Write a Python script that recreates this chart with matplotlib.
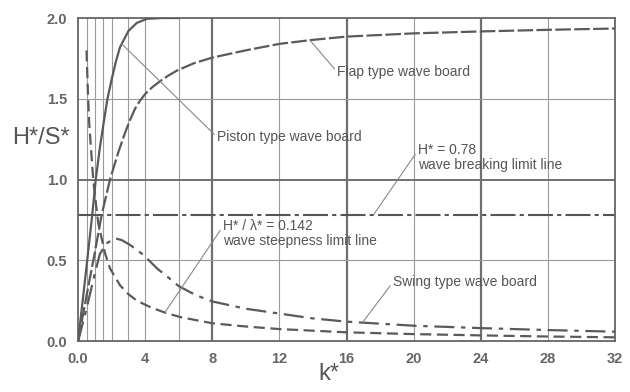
import matplotlib
matplotlib.use("Agg")
import matplotlib.pyplot as plt

plt.rcParams['font.family'] = ['Liberation Sans', 'DejaVu Sans']

# curves (k*, H*/S*)
piston_k = [0.0, 0.5, 0.84, 1.05, 1.3, 1.55, 1.75, 2.0, 2.25, 2.5, 3.0, 3.5, 4.1, 5.0, 6.0]
piston_h = [0.0, 0.46, 0.78, 1.0, 1.2, 1.37, 1.5, 1.62, 1.73, 1.82, 1.92, 1.97, 1.995, 2.0, 2.0]

flap_k = [0.0, 0.5, 1.0, 1.4, 1.9, 2.4, 2.8, 3.1, 3.4, 3.7, 4.0, 4.4, 4.9, 5.4, 5.9, 6.9, 8.0, 10.0, 12.0, 14.0, 16.0, 20.0, 24.0, 28.0, 32.0]
flap_h = [0.0, 0.28, 0.55, 0.78, 1.0, 1.17, 1.29, 1.37, 1.44, 1.49, 1.53, 1.57, 1.61, 1.645, 1.675, 1.72, 1.755, 1.8, 1.84, 1.865, 1.885, 1.905, 1.917, 1.927, 1.935]

swing_k = [0.0, 0.5, 1.0, 1.3, 1.7, 2.2, 2.6, 3.1, 3.9, 4.7, 5.3, 6.0, 7.0, 8.0, 10.0, 12.0, 14.0, 16.0, 20.0, 24.0, 28.0, 32.0]
swing_h = [0.0, 0.2, 0.42, 0.54, 0.605, 0.636, 0.625, 0.595, 0.533, 0.45, 0.4, 0.34, 0.285, 0.245, 0.2, 0.17, 0.14, 0.12, 0.095, 0.08, 0.068, 0.058]

steep_k = [0.5, 0.58, 0.66, 0.9, 1.14, 1.2, 1.6, 1.9, 2.5, 3.0, 3.5, 4.3, 5.2, 6.1, 8.0, 10.0, 12.0, 16.0, 20.0, 24.0, 28.0, 32.0]
steep_h = [1.8, 1.55, 1.35, 1.0, 0.78, 0.73, 0.545, 0.45, 0.345, 0.29, 0.25, 0.21, 0.175, 0.148, 0.11, 0.09, 0.074, 0.054, 0.043, 0.035, 0.028, 0.023]

breaking_h = 0.78

x_ticks = [0, 4, 8, 12, 16, 20, 24, 28, 32]
x_labels = ['0.0', '4', '8', '12', '16', '20', '24', '28', '32']
y_ticks = [0.0, 0.5, 1.0, 1.5, 2.0]
y_labels = ['0.0', '0.5', '1.0', '1.5', '2.0']

thin_vgrid = [0.5, 1.0, 1.5, 2.0, 3.0, 4.0, 6.0, 12, 20, 28]
thick_vgrid = [8, 16, 24]
thin_hgrid = [0.5, 1.5]
thick_hgrid = [1.0]

fig = plt.figure(figsize=(6.3, 3.92), dpi=100)
ax = fig.add_axes([0.124, 0.130, 0.852, 0.824])

for v in thin_vgrid:
    ax.axvline(v, color='#9a9a9a', lw=0.8, zorder=1)
for v in thick_vgrid:
    ax.axvline(v, color='#707070', lw=1.6, zorder=1)
for h in thin_hgrid:
    ax.axhline(h, color='#9a9a9a', lw=0.8, zorder=1)
for h in thick_hgrid:
    ax.axhline(h, color='#707070', lw=1.4, zorder=1)

ax.axhline(breaking_h, color='#555555', lw=1.5, dashes=(12, 2, 2, 2), zorder=2)

c = '#5a5a5a'
ax.plot(piston_k, piston_h, color=c, lw=1.6, zorder=3)
ax.plot(flap_k, flap_h, color=c, lw=1.6, dashes=(7, 1.5), zorder=3)
ax.plot(swing_k, swing_h, color=c, lw=1.6, dashes=(9, 3, 2, 3), zorder=3)
ax.plot(steep_k, steep_h, color=c, lw=1.6, dashes=(5, 2.5), zorder=3)

ax.set_xlim(0, 32)
ax.set_ylim(0, 2.0)
ax.set_xticks(x_ticks)
ax.set_xticklabels(x_labels)
ax.set_yticks(y_ticks)
ax.set_yticklabels(y_labels)
ax.tick_params(length=0, labelsize=10.5, labelcolor='#666666', pad=8)
for lab in ax.get_xticklabels() + ax.get_yticklabels():
    lab.set_fontweight('bold')
for s in ax.spines.values():
    s.set_color('#666666')
    s.set_linewidth(1.3)

fig.text(0.02, 0.648, 'H*/S*', fontsize=17, color='#555555', va='center', ha='left')
fig.text(0.522, 0.045, 'k*', fontsize=17, color='#555555', va='center', ha='center')

tc = '#555555'
lead = dict(arrowstyle='-', color='#888888', lw=0.8, shrinkA=0, shrinkB=0)

ax.annotate('Flap type wave board', xy=(13.8, 1.865), xytext=(15.45, 1.665),
            fontsize=10, color=tc, ha='left', va='center',
            arrowprops=dict(lead, relpos=(0, 0.5)))
ax.annotate('Piston type wave board', xy=(2.6, 1.84), xytext=(8.28, 1.263),
            fontsize=10, color=tc, ha='left', va='center',
            arrowprops=dict(lead, relpos=(0, 0.5)))
ax.annotate('H* = 0.78\nwave breaking limit line', xy=(17.6, breaking_h), xytext=(20.26, 1.136),
            fontsize=10, color=tc, ha='left', va='center', linespacing=1.1,
            arrowprops=dict(lead, relpos=(0, 0.75)))
ax.annotate('H* / λ* = 0.142\nwave steepness limit line', xy=(5.18, 0.178), xytext=(8.64, 0.666),
            fontsize=10, color=tc, ha='left', va='center', linespacing=1.1,
            arrowprops=dict(lead, relpos=(0, 0.75)))
ax.annotate('Swing type wave board', xy=(16.98, 0.118), xytext=(18.77, 0.365),
            fontsize=10, color=tc, ha='left', va='center',
            arrowprops=dict(lead, relpos=(0, 0.5)))

fig.savefig('out.png', dpi=100, facecolor='white')
